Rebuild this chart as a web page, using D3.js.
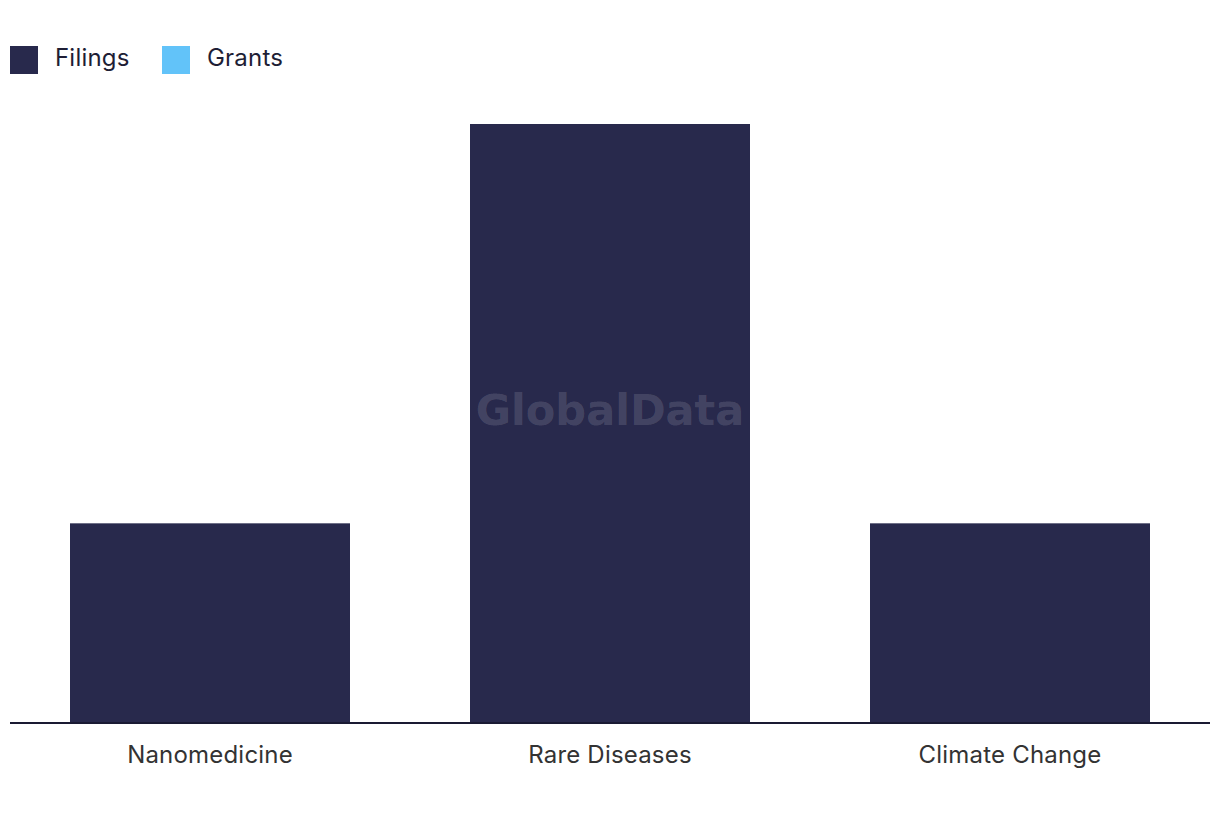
<!DOCTYPE html>
<html>
<head>
<meta charset="utf-8">
<script src="https://cdn.jsdelivr.net/npm/d3@7"></script>
<style>
  html, body { margin: 0; padding: 0; background: #fff; }
  svg { display: block; font-family: "Inter", "Noto Sans", sans-serif; }
</style>
</head>
<body>
<svg id="chart" width="1220" height="820"></svg>
<script>
const categories = ["Nanomedicine", "Rare Diseases", "Climate Change"];
const filings = [1, 3, 1];
const grants = [0, 0, 0];
const seriesNames = ["Filings", "Grants"];
const seriesColors = ["#28294c", "#62c3f9"];

const svg = d3.select("#chart");
const margin = { left: 10, right: 10, top: 124 };
const W = 1220;
const baseY = 723;

const x = d3.scaleBand().domain(categories).range([margin.left, W - margin.right]).paddingInner(0.3).paddingOuter(0.15);
const y = d3.scaleLinear().domain([0, d3.max(filings.map((f, i) => f + grants[i]))]).range([baseY, margin.top]);

const data = categories.map((c, i) => ({ cat: c, Filings: filings[i], Grants: grants[i] }));
const stack = d3.stack().keys(seriesNames)(data);

svg.append("g").selectAll("g").data(stack).join("g")
  .attr("fill", (d, i) => seriesColors[i])
  .selectAll("rect").data(d => d).join("rect")
  .attr("x", d => x(d.data.cat))
  .attr("width", x.bandwidth())
  .attr("y", d => y(d[1]))
  .attr("height", d => Math.max(0, y(d[0]) - y(d[1])));

// watermark
svg.append("text")
  .attr("x", 610).attr("y", 425)
  .attr("text-anchor", "middle")
  .attr("font-family", "'DejaVu Sans', sans-serif")
  .attr("font-weight", "bold")
  .attr("font-size", 43)
  .attr("fill", "#ffffff").attr("fill-opacity", 0.15)
  .text("GlobalData");

// x axis
const xAxis = d3.axisBottom(x).tickSize(0).tickPadding(23);
const gx = svg.append("g").attr("transform", `translate(0,${baseY})`).call(xAxis);
gx.select(".domain").attr("stroke", "#1a1a33").attr("stroke-width", 2)
  .attr("d", `M${margin.left},0H${W - margin.right}`);
gx.selectAll(".tick text").attr("font-size", 24).attr("fill", "#333333")
  .attr("letter-spacing", 0.2)
  .attr("font-family", "Inter, 'Noto Sans', sans-serif");

// legend
const legend = svg.append("g");
const lx = [10, 162];
seriesNames.forEach((s, i) => {
  legend.append("rect").attr("x", lx[i]).attr("y", 46).attr("width", 28).attr("height", 28).attr("fill", seriesColors[i]);
  legend.append("text").attr("x", lx[i] + 45).attr("y", 66).attr("font-size", 24)
    .attr("letter-spacing", 0.2)
    .attr("fill", "#1e1e35").text(s);
});
</script>
</body>
</html>
